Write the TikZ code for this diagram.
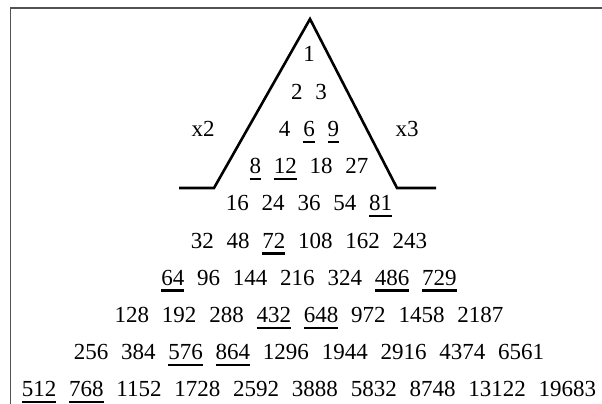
\documentclass[tikz,border=0pt]{standalone}
\usepackage{fontspec}
\setmainfont{Liberation Serif}
\newcommand{\ulx}[1]{\setbox0\hbox{#1}\rlap{\rule[-6.5pt]{\wd0}{2.4pt}}\box0\relax}
\newcommand{\rowfont}{\fontsize{23}{27}\selectfont\spaceskip 12.8pt\relax}
\begin{document}
\begin{tikzpicture}[x=1pt,y=-1pt,
  rowtext/.style={font=\rowfont, anchor=base, inner sep=0pt},
  frame/.style={draw=black!68, line width=1.8pt},
  roof/.style={draw=black, line width=2.6pt, line join=miter}]
\useasboundingbox (0,0) rectangle (602,404);
\draw[frame] (602,8) -- (10.5,8) -- (10.5,404);
\draw[roof] (179,188) -- (214,188) -- (310,19) -- (397,188) -- (436,188);
\node[rowtext] (x2) at (203,136.4) {x2};
\node[rowtext] (x3) at (407,136.4) {x3};
\node[rowtext] (r0) at (309,62) {1};
\node[rowtext] (r1) at (309,99.2) {2 3};
\node[rowtext] (r2) at (309,136.4) {4 \ulx{6} \ulx{9}};
\node[rowtext] (r3) at (309,173.6) {\ulx{8} \ulx{12} 18 27};
\node[rowtext] (r4) at (309,210.8) {16 24 36 54 \ulx{81}};
\node[rowtext] (r5) at (309,248) {32 48 \ulx{72} 108 162 243};
\node[rowtext] (r6) at (309,285.2) {\ulx{64} 96 144 216 324 \ulx{486} \ulx{729}};
\node[rowtext] (r7) at (309,322.4) {128 192 288 \ulx{432} \ulx{648} 972 1458 2187};
\node[rowtext] (r8) at (309,359.6) {256 384 \ulx{576} \ulx{864} 1296 1944 2916 4374 6561};
\node[rowtext] (r9) at (309,396.8) {\ulx{512} \ulx{768} 1152 1728 2592 3888 5832 8748 13122 19683};
\end{tikzpicture}
\end{document}
